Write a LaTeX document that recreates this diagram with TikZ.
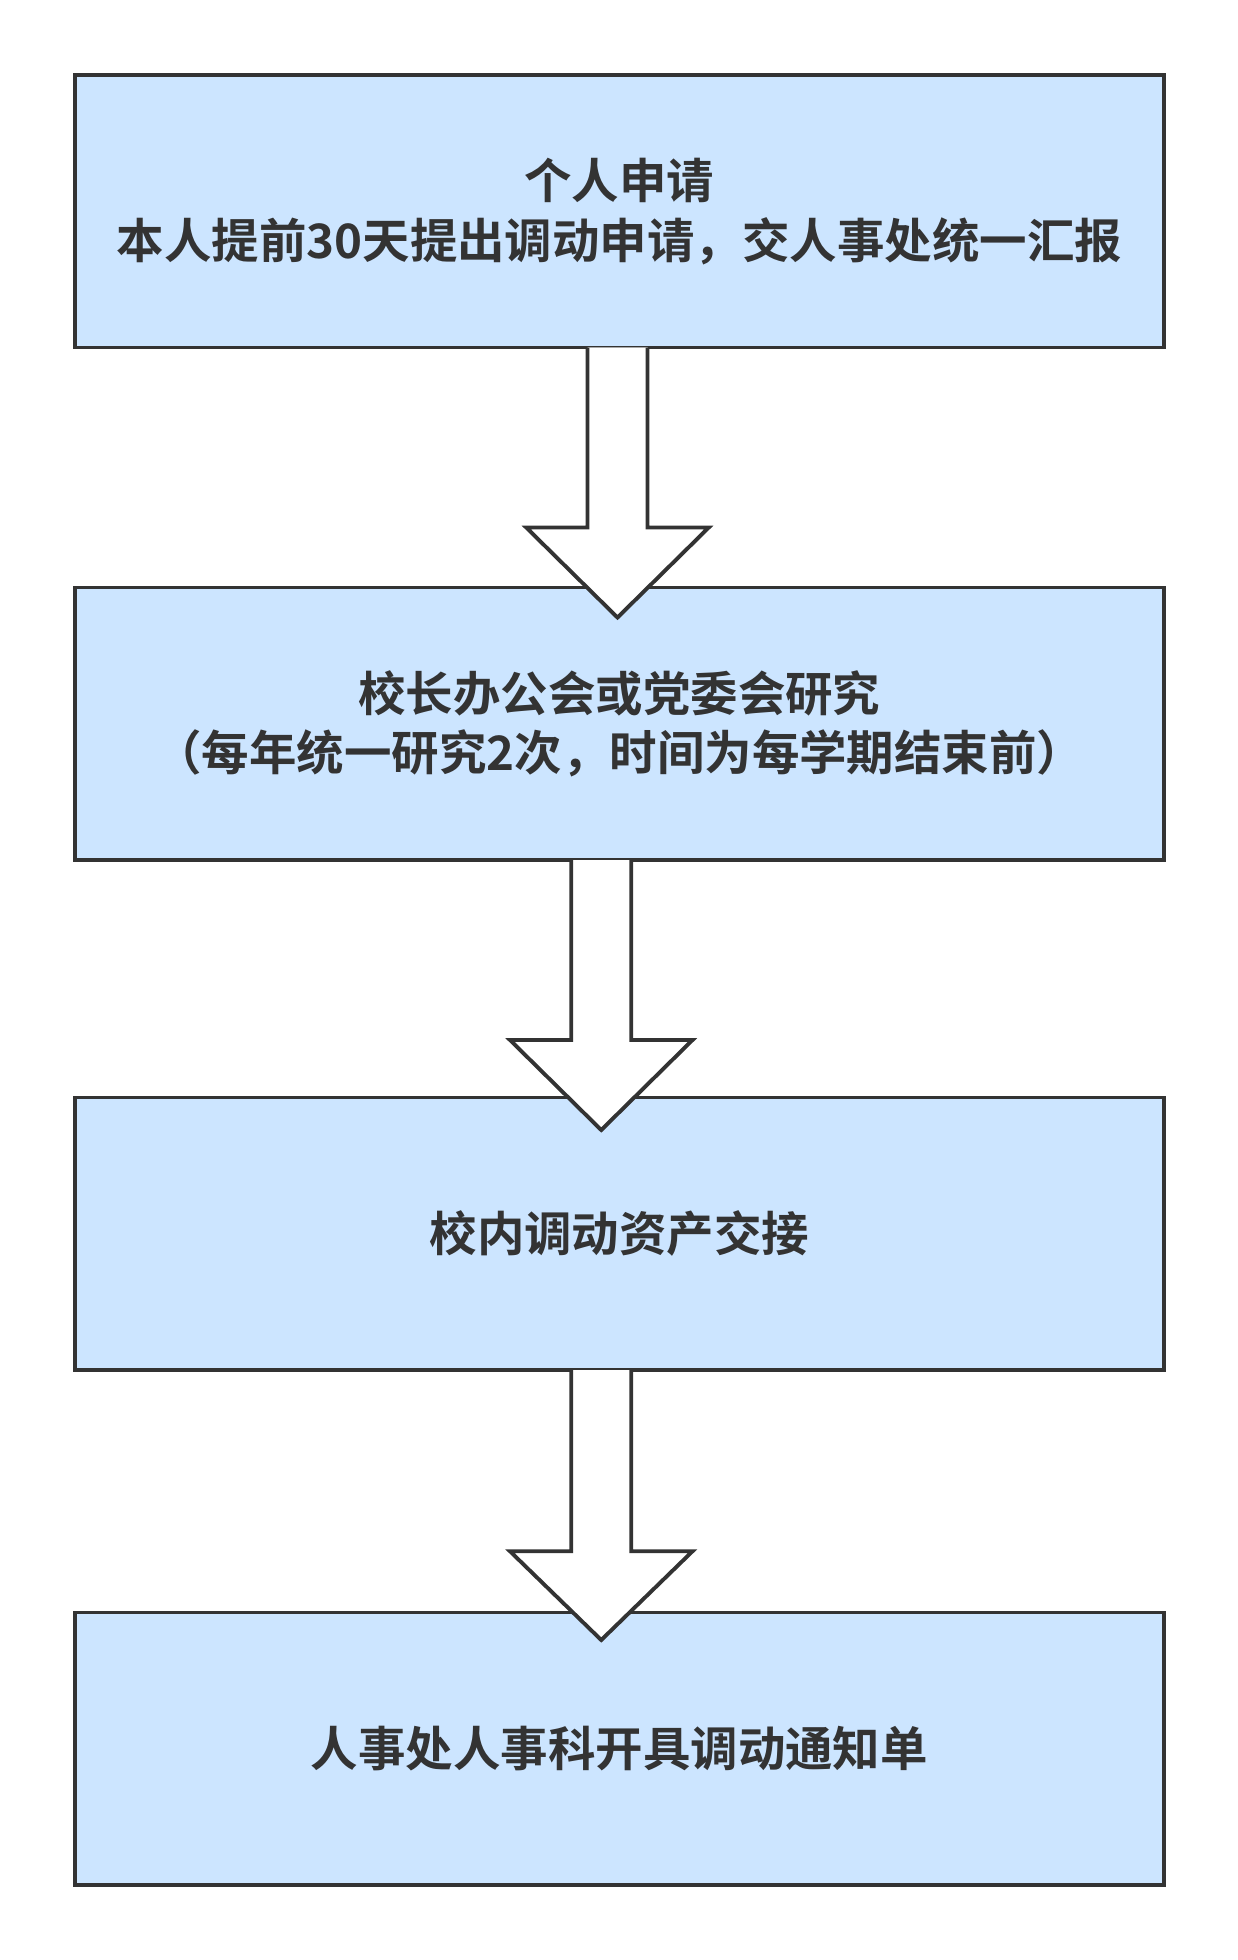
\documentclass[tikz,border=0pt]{standalone}
\usepackage{fontspec}
\newfontfamily\cjk{Noto Sans CJK SC}[BoldFont={Noto Sans CJK SC Bold}]
\usetikzlibrary{calc}
\definecolor{boxfill}{HTML}{CCE5FF}
\definecolor{ink}{HTML}{333333}
\tikzset{
  stepbox/.style={draw=ink, fill=boxfill, line width=2.2pt, minimum width=21.775cm, minimum height=5.45cm,
    align=center, font=\cjk\bfseries\fontsize{27}{34}\selectfont, text=ink},
  flowarrow/.style={draw=ink, fill=white, line width=2.2pt, line join=miter}
}
% block arrow: #1 top y, #2 head y, #3 tip y, #4 centre x (all in px units)
\newcommand{\blockarrow}[4]{%
  \fill[white] (#4-24,#1) -- (#4-24,#2) -- (#4-73,#2) -- (#4,#3) -- (#4+73,#2) -- (#4+24,#2) -- (#4+24,#1) -- cycle;
  \draw[flowarrow] (#4-24,#1) -- (#4-24,#2) -- (#4-73,#2) -- (#4,#3) -- (#4+73,#2) -- (#4+24,#2) -- (#4+24,#1);}
\begin{document}
\begin{tikzpicture}[x=0.025cm, y=-0.025cm]
\useasboundingbox (0,0) rectangle (990,1568);

\node[stepbox] (apply) at (495.5,169) {个人申请\\本人提前30天提出调动申请，交人事处统一汇报};
\node[stepbox] (meeting) at (495.5,579) {校长办公会或党委会研究\\（每年统一研究2次，时间为每学期结束前）};
\node[stepbox] (handover) at (495.5,987) {校内调动资产交接};
\node[stepbox] (notice) at (495.5,1399) {人事处人事科开具调动通知单};

\blockarrow{278}{422}{494}{494}
\blockarrow{688}{832}{904}{481}
\blockarrow{1096}{1241}{1312}{481}

\end{tikzpicture}
\end{document}
